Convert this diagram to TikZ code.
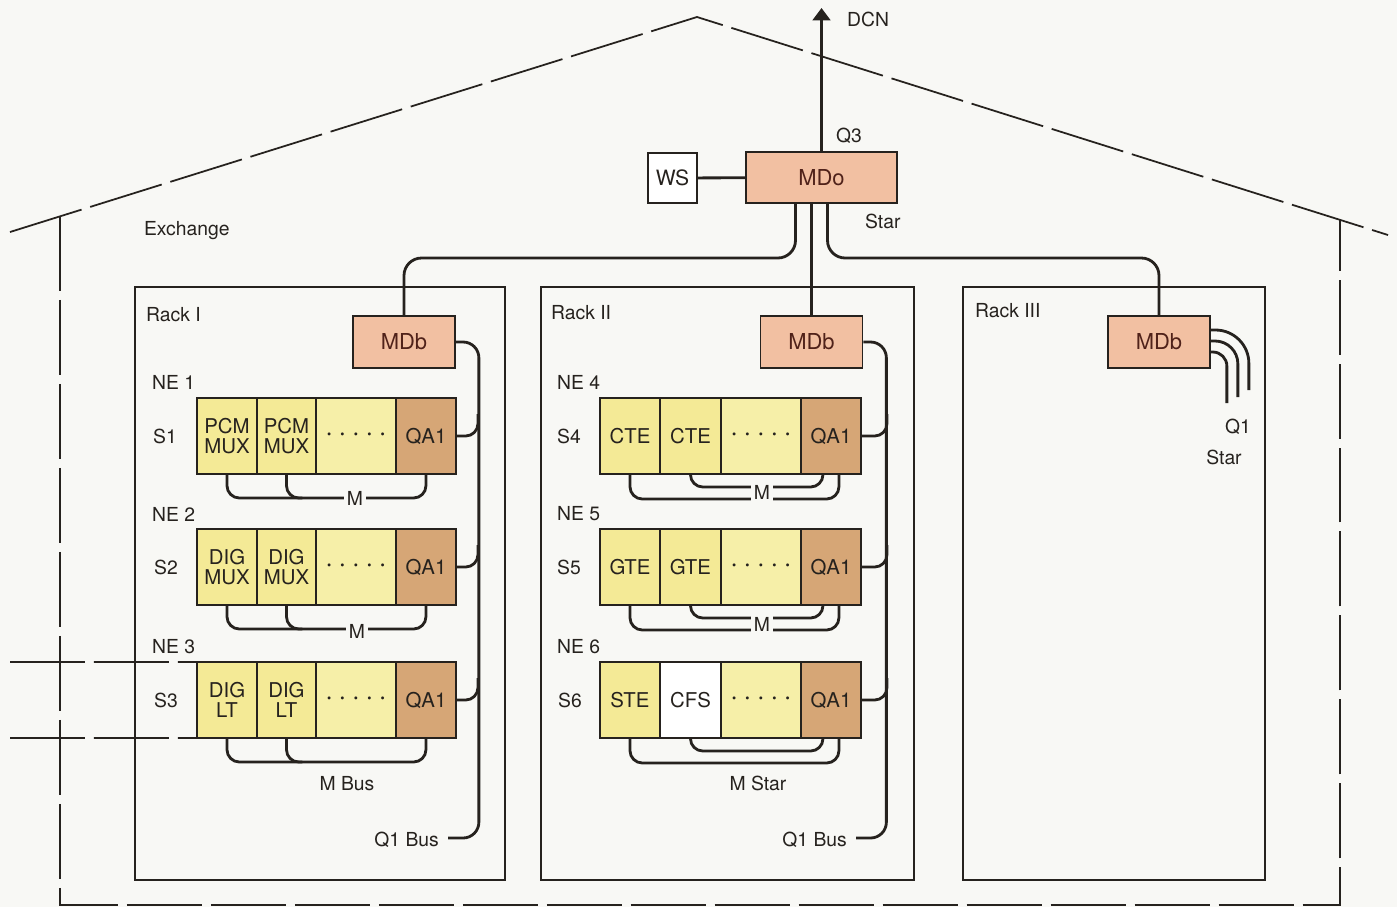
\documentclass[tikz,border=0pt]{standalone}
\usepackage{fontspec}
\setmainfont{TeX Gyre Heros}
\usetikzlibrary{positioning, arrows.meta, calc}

\definecolor{paper}{RGB}{248,248,245}
\definecolor{ink}{RGB}{38,34,30}
\definecolor{mdfill}{RGB}{242,192,162}
\definecolor{qafill}{RGB}{214,166,118}
\definecolor{cellfill}{RGB}{244,234,150}
\definecolor{dotsfill}{RGB}{246,239,168}
\definecolor{mdtext}{RGB}{80,34,26}

\newcommand{\fivedots}{\bfseries·\hspace{0.38em}·\hspace{0.38em}·\hspace{0.38em}·\hspace{0.38em}·}

\begin{document}
\begin{tikzpicture}[
  x=0.02cm, y=-0.02cm,
  font=\fontsize{11}{12}\selectfont, text=ink,
  house/.style={draw=ink, line width=1pt, dash pattern=on 1.5cm off 0.18cm},
  rack/.style={draw=ink, line width=0.8pt},
  wire/.style={draw=ink, line width=1.6pt, rounded corners=7pt},
  md/.style={draw=ink, line width=1pt, fill=mdfill, text=mdtext,
             font=\fontsize{12.5}{13}\selectfont,
             minimum width=2.04cm, minimum height=1.04cm, inner sep=0pt},
  unit/.style={draw=ink, line width=1pt, fill=cellfill, minimum height=1.52cm,
               inner sep=0pt, outer sep=0pt, align=center,
               font=\fontsize{11.6}{11.4}\selectfont},
  dots/.style={unit, fill=dotsfill, minimum width=1.6cm},
  qa/.style={unit, fill=qafill, minimum width=1.2cm},
  lbl/.style={inner sep=1pt},
  gap/.style={fill=paper, inner sep=1.5pt},
]

\fill[paper] (0,0) rectangle (1397,907);

% Exchange building
\draw[house] (10,232) -- (697,17) -- (1388,235);
\draw[house] (60,216) -- (60,905) -- (1340,905) -- (1340,220);
\node[lbl, anchor=west] (exch) at (142,231) {Exchange};

% Racks
\draw[rack] (135,287) rectangle (505,880);
\draw[rack] (541,287) rectangle (914,880);
\draw[rack] (963,287) rectangle (1265,880);
\node[lbl, anchor=west] (rk1) at (144,315) {Rack I};
\node[lbl, anchor=west] (rk2) at (549,313) {Rack II};
\node[lbl, anchor=west] (rk3) at (973,311) {Rack III};

% Mediation devices
\node[md, minimum width=3.02cm, minimum height=1.02cm] (mdo) at (821.5,177.5) {MDo};
\node[draw=ink, line width=1pt, fill=white, minimum width=0.98cm,
      minimum height=1cm, inner sep=0pt, font=\fontsize{12}{13}\selectfont] (ws) at (672.5,178) {WS};
\node[md] (mdbI) at (404,342) {MDb};
\node[md] (mdbII) at (811.5,342) {MDb};
\node[md] (mdbIII) at (1159,342) {MDb};

% NE 1
\node[lbl, anchor=west] (ne1) at (150,382) {NE 1};
\node[lbl] (s1) at (165,436) {S1};
\node[unit, minimum width=1.2cm, anchor=west] (a1) at (197,436) {PCM\\MUX};
\node[unit, minimum width=1.18cm, right=0pt of a1] (b1) {PCM\\MUX};
\node[dots, right=0pt of b1] (c1) {\fivedots};
\node[qa, right=0pt of c1] (q1) {QA1};

% NE 2
\node[lbl, anchor=west] (ne2) at (150,514) {NE 2};
\node[lbl] (s2) at (166,567) {S2};
\node[unit, minimum width=1.2cm, anchor=west] (a2) at (197,567) {DIG\\MUX};
\node[unit, minimum width=1.18cm, right=0pt of a2] (b2) {DIG\\MUX};
\node[dots, right=0pt of b2] (c2) {\fivedots};
\node[qa, right=0pt of c2] (q2) {QA1};

% NE 3
\node[lbl, anchor=west] (ne3) at (150,647) {NE 3};
\node[lbl] (s3) at (166,700) {S3};
\node[unit, minimum width=1.2cm, anchor=west] (a3) at (197,700) {DIG\\LT};
\node[unit, minimum width=1.18cm, right=0pt of a3] (b3) {DIG\\LT};
\node[dots, right=0pt of b3] (c3) {\fivedots};
\node[qa, right=0pt of c3] (q3) {QA1};

% NE 4
\node[lbl, anchor=west] (ne4) at (555,382) {NE 4};
\node[lbl] (s4) at (569,436) {S4};
\node[unit, minimum width=1.2cm, anchor=west] (a4) at (600,436) {CTE};
\node[unit, minimum width=1.22cm, right=0pt of a4] (b4) {CTE};
\node[dots, right=0pt of b4] (c4) {\fivedots};
\node[qa, right=0pt of c4] (q4) {QA1};

% NE 5
\node[lbl, anchor=west] (ne5) at (555,514) {NE 5};
\node[lbl] (s5) at (569,567) {S5};
\node[unit, minimum width=1.2cm, anchor=west] (a5) at (600,567) {GTE};
\node[unit, minimum width=1.22cm, right=0pt of a5] (b5) {GTE};
\node[dots, right=0pt of b5] (c5) {\fivedots};
\node[qa, right=0pt of c5] (q5) {QA1};

% NE 6
\node[lbl, anchor=west] (ne6) at (555,647) {NE 6};
\node[lbl] (s6) at (570,700) {S6};
\node[unit, minimum width=1.2cm, anchor=west] (a6) at (600,700) {STE};
\node[unit, minimum width=1.22cm, fill=white, right=0pt of a6] (b6) {CFS};
\node[dots, right=0pt of b6] (c6) {\fivedots};
\node[qa, right=0pt of c6] (q6) {QA1};

% line cut through NE 3
\coordinate (cutA) at (10,662);
\coordinate (cutB) at (10,738);
\draw[house] (cutA) -- (a3.north west);
\draw[house] (cutB) -- (a3.south west);

% Q3 to DCN, WS
\coordinate (dcn) at (821.5,8);
\draw[wire, -{Triangle[width=10pt,length=7pt]}] (mdo.north) -- (dcn);
\node[lbl, anchor=west] (dcnl) at (845,19) {DCN};
\node[lbl, anchor=west] (q3l) at (834,136) {Q3};
\draw[wire] (ws) -- (mdo);

% Star from MDo to the racks
\coordinate (tap) at (mdbII.north |- mdo.south);
\coordinate (starbus) at (600,258);
\draw[wire, rounded corners=10pt] ($(tap)+(-16,0)$) |- (mdbI.north |- starbus) -- (mdbI.north);
\draw[wire] (tap) -- (mdbII.north);
\draw[wire, rounded corners=10pt] ($(tap)+(16,0)$) |- (mdbIII.north |- starbus) -- (mdbIII.north);
\node[lbl, anchor=west] (starl) at (863,221) {Star};

% Q1 bus, Rack I
\coordinate (endI) at (448,838);
\draw[wire, rounded corners=9pt] (mdbI.east) -- ++(23,0) |- (endI);
\foreach \q in {q1,q2,q3}
  \draw[wire] (\q.east) -- ++(22,0) -- ++(0,-22);
\node[lbl, anchor=east] (busI) at (441,840) {Q1 Bus};

% Q1 bus, Rack II
\coordinate (endII) at (856,838);
\draw[wire, rounded corners=9pt] (mdbII.east) -- ++(23,0) |- (endII);
\foreach \q in {q4,q5,q6}
  \draw[wire] (\q.east) -- ++(26,0) -- ++(0,-22);
\node[lbl, anchor=east] (busII) at (849,840) {Q1 Bus};

% Q1 star, Rack III
\draw[wire, rounded corners=19pt] ($(mdbIII.east)+(0,-12)$) -- ++(38,0) -- ++(0,60);
\draw[wire, rounded corners=13pt] ($(mdbIII.east)+(0,-1)$) -- ++(27,0) -- ++(0,56);
\draw[wire, rounded corners=8pt] ($(mdbIII.east)+(0,10)$) -- ++(16,0) -- ++(0,51);
\node[lbl] (q1l) at (1238,427) {Q1};
\node[lbl] (q1s) at (1224,457) {Star};

% M bus, Rack I
\foreach \r in {1,2,3} {
  \draw[wire] (a\r.south) -- ++(0,24) -| (q\r.south);
  \draw[wire] (b\r.south) -- ++(0,24) -- ++(16,0);
}
\node[gap] (m1) at (355,498) {M};
\node[gap] (m2) at (357,631) {M};
\node[lbl] (mbus) at (347,784) {M Bus};

% M star, Rack II
\foreach \r in {4,5,6} {
  \draw[wire] (a\r.south) -- ++(0,25) -| ($(q\r.south)+(8,0)$);
  \draw[wire] (b\r.south) -- ++(0,13) -| ($(q\r.south)+(-8,0)$);
}
\node[gap] (m4) at (762,492) {M};
\node[gap] (m5) at (762,624) {M};
\node[lbl] (mstar) at (758,783) {M Star};

\end{tikzpicture}
\end{document}
